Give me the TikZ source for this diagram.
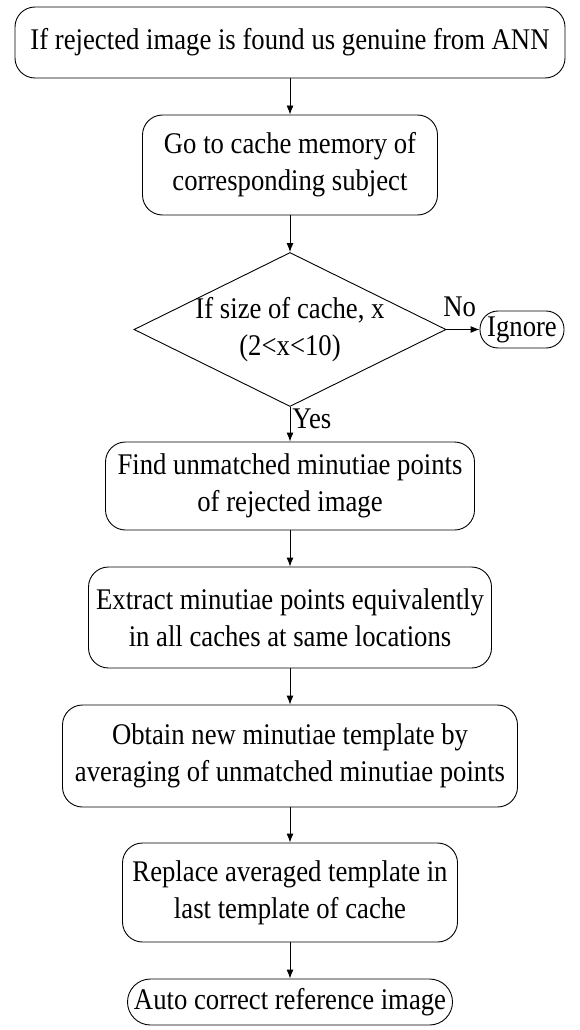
\documentclass[tikz,border=0pt]{standalone}
\usepackage{fontspec}
\setmainfont{Liberation Serif}[FakeStretch=0.89]
\usetikzlibrary{shapes.geometric,arrows.meta}

\begin{document}
\begin{tikzpicture}[x=1pt,y=-1pt,
	every node/.style={font=\fontsize{30}{37}\selectfont},
	blk/.style={draw,rounded corners=20pt,align=center,inner sep=0pt,line width=0.9pt},
	decision/.style={draw,diamond,inner sep=0pt,line width=0.9pt},
	lbl/.style={inner sep=2pt,align=center}]
			\useasboundingbox (0,0) rectangle (579,1030);
			% main column
			\node[blk,minimum width=550pt,minimum height=71pt] (found) at (290,42.5) {If rejected image is found us genuine from ANN};
			\node[blk,minimum width=295pt,minimum height=100pt] (cache) at (290,165) {Go to cache memory of\\corresponding subject};
			\node[decision,minimum width=312pt,minimum height=154pt] (dec) at (290,329.5) {};
			\node[lbl] (dectext) at (dec) {If size of cache, x\\(2<x<10)};
			\node[blk,rounded corners=18pt,minimum width=84pt,minimum height=37pt,inner xsep=4pt] (ign) at (522,329.5) {Ignore};
			\node[blk,minimum width=369pt,minimum height=88pt] (unm) at (290,486) {Find unmatched minutiae points\\of rejected image};
			\node[blk,minimum width=403pt,minimum height=101pt] (extr) at (290,617.5) {Extract minutiae points equivalently\\in all caches at same locations};
			\node[blk,minimum width=455pt,minimum height=102pt] (avg) at (290,756) {Obtain new minutiae template by\\averaging of unmatched minutiae points};
			\node[blk,minimum width=335pt,minimum height=99pt] (repl) at (290,892.5) {Replace averaged template in\\last template of cache};
			\node[blk,rounded corners=23pt,minimum width=325pt,minimum height=46pt] (auto) at (290,1002) {Auto correct reference image};
			% connectors
			\path[-{Latex[length=9pt,width=7pt]},line width=0.9pt]
			(found) edge (cache)
			(cache) edge (dec)
			(dec) edge node[lbl,above=10pt,pos=.4] {No} (ign)
			(dec) edge node[lbl,right,pos=.35] {Yes} (unm)
			(unm) edge (extr)
			(extr) edge (avg)
			(avg) edge (repl)
			(repl) edge (auto);
		\end{tikzpicture}
\end{document}
